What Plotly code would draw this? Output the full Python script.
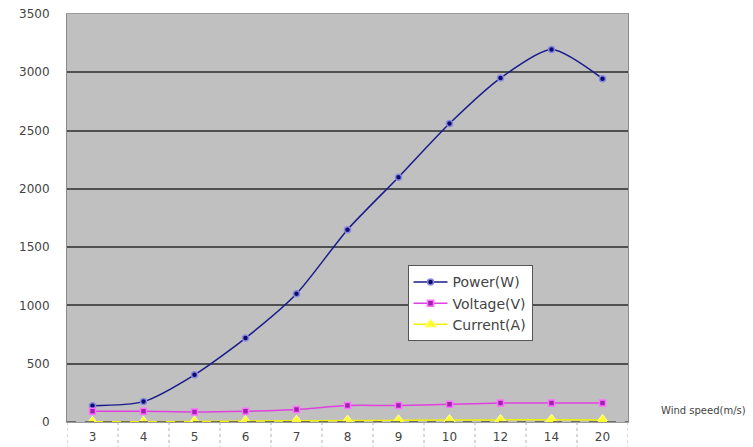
import plotly.graph_objects as go

wind_speed = ["3", "4", "5", "6", "7", "8", "9", "10", "12", "14", "20"]
power_w = [140, 175, 405, 720, 1100, 1650, 2100, 2560, 2950, 3195, 2945]
voltage_v = [92, 92, 86, 93, 108, 142, 142, 152, 162, 162, 162]
current_a = [2, 3, 5, 8, 11, 12, 15, 17, 18, 20, 18]

y_ticks = [0, 500, 1000, 1500, 2000, 2500, 3000, 3500]

FONT = "DejaVu Sans, Verdana, sans-serif"

fig = go.Figure()
fig.add_trace(go.Scatter(
    x=wind_speed, y=power_w, name="Power(W)", mode="lines+markers",
    line=dict(color="#1a1a8c", width=1.5, shape="spline", smoothing=0.7),
    marker=dict(color="#0a0a70", size=6, symbol="circle",
                line=dict(color="#8a8ae0", width=1.5)),
))
fig.add_trace(go.Scatter(
    x=wind_speed, y=voltage_v, name="Voltage(V)", mode="lines+markers",
    line=dict(color="#e040e0", width=1.5, shape="spline", smoothing=0.7),
    marker=dict(color="#a020b0", size=6, symbol="square",
                line=dict(color="#ff70ff", width=1.5)),
))
fig.add_trace(go.Scatter(
    x=wind_speed, y=current_a, name="Current(A)", mode="lines+markers",
    line=dict(color="#f0f000", width=1.5, shape="spline"),
    marker=dict(color="#ffff30", size=11, symbol="triangle-up",
                line=dict(color="#ffffa0", width=1)),
))

shapes = []
# dashed base line at zero
shapes.append(dict(type="line", xref="paper", yref="y", x0=0, x1=1, y0=0, y1=0,
                   line=dict(color="#505050", width=1.5, dash="dash"), layer="above"))
# dashed category separators below the axis
for i in range(len(wind_speed) + 1):
    shapes.append(dict(type="line", xref="x", yref="paper", x0=i - 0.5, x1=i - 0.5,
                       y0=0, y1=-0.07, line=dict(color="#b0b0b0", width=1, dash="dot")))

fig.update_layout(
    width=753, height=447,
    margin=dict(l=67, r=125, t=14, b=25),
    paper_bgcolor="white", plot_bgcolor="#c0c0c0",
    font=dict(family=FONT, size=12, color="#333333"),
    showlegend=True,
    legend=dict(x=0.607, y=0.384, xanchor="left", yanchor="top",
                bgcolor="white", bordercolor="#555555", borderwidth=1,
                font=dict(family=FONT, size=14, color="#444444"), tracegroupgap=0,
                itemwidth=34),
    shapes=shapes,
    annotations=[dict(text="Wind speed(m/s)", xref="paper", yref="y", x=1.055, y=100,
                      xanchor="left", yanchor="middle", showarrow=False,
                      font=dict(family=FONT, size=10, color="#444444"))],
)
fig.update_xaxes(type="category", range=[-0.5, len(wind_speed) - 0.5], automargin=False,
                 showgrid=False, zeroline=False, showline=True, linecolor="#9a9a9a",
                 mirror=True, ticks="", tickfont=dict(size=12, color="#444444"),
                 ticklabelstandoff=4)
fig.update_yaxes(range=[0, 3500], tickvals=y_ticks, showgrid=True, automargin=False,
                 gridcolor="#505050", gridwidth=1.5, zeroline=False,
                 showline=True, linecolor="#8a8a8a", mirror=True,
                 ticks="", tickfont=dict(size=12, color="#444444"), ticklabelstandoff=14)

fig.write_html("out.html", config={"displayModeBar": False},
               post_script="document.body.style.margin='0';")
